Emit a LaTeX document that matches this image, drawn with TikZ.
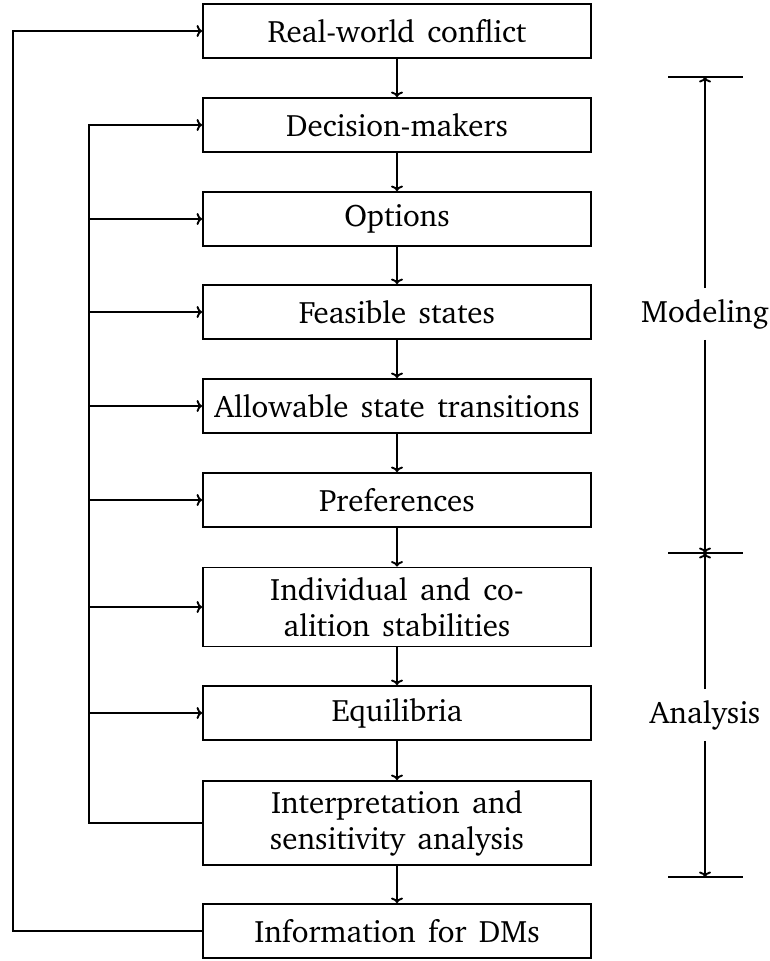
\documentclass[tikz,border=0pt]{standalone}
\usepackage[T1]{fontenc}
\usepackage{charter}
\usetikzlibrary{arrows.meta}
\newcommand\boxfont{\fontsize{31}{36}\selectfont\spaceskip=0.4em plus 0.1em minus 0.05em\relax}
\begin{document}
\begin{tikzpicture}[x=1pt,y=-1pt,line width=1.9pt,
  txt/.style={font=\boxfont},
  box/.style={draw, txt, minimum width=388pt, minimum height=54pt, align=center, inner sep=0pt},
  tallbox/.style={box, minimum height=#1},
  arr/.style={-{To[length=5.5pt,width=12pt]}},
  lbl/.style={txt, inner sep=0pt, minimum height=50pt}]
\useasboundingbox (0,0) rectangle (770,961);
% boxes
\node[box] (b1) at (397,31) {Real-world conflict};
\node[box] (b2) at (397,125) {Decision-makers};
\node[box] (b3) at (397,219) {Options};
\node[box] (b4) at (397,312) {Feasible states};
\node[box] (b5) at (397,406) {Allowable state transitions};
\node[box] (b6) at (397,500) {Preferences};
\node[tallbox=79pt] (b7) at (397,607) {Individual and co-\\alition stabilities};
\node[box] (b8) at (397,713) {Equilibria};
\node[tallbox=84pt] (b9) at (397,823) {Interpretation and\\sensitivity analysis};
\node[box] (b10) at (397,931) {Information for DMs};
% vertical chain
\foreach \a/\b in {b1/b2,b2/b3,b3/b4,b4/b5,b5/b6,b6/b7,b7/b8,b8/b9,b9/b10}
  \draw[arr] (\a.south) -- (\b.north);
% inner feedback
\coordinate (inner) at (89,500);
\draw[arr] (b9.west) -- (b9.west -| inner) -- (b2.west -| inner) -- (b2.west);
\foreach \b in {b3,b4,b5,b6,b7,b8}
  \draw[arr] (\b.west -| inner) -- (\b.west);
% outer feedback
\coordinate (outer) at (13,500);
\draw[arr] (b10.west) -- (b10.west -| outer) -- (b1.west -| outer) -- (b1.west);
% right brackets
\coordinate (t1) at (668,77);  \coordinate (t2) at (743,77);
\coordinate (m1) at (668,553); \coordinate (m2) at (743,553);
\coordinate (u1) at (668,877); \coordinate (u2) at (743,877);
\coordinate (tc) at (705,77); \coordinate (mc) at (705,553); \coordinate (uc) at (705,877);
\draw (t1) -- (t2);
\draw (m1) -- (m2);
\draw (u1) -- (u2);
\node[lbl] (mod) at (705,314) {Modeling};
\node[lbl] (ana) at (705,715) {Analysis};
\draw[arr] (mod.north) -- (tc);
\draw[arr] (mod.south) -- (mc);
\draw[arr] (ana.north) -- (mc);
\draw[arr] (ana.south) -- (uc);
\end{tikzpicture}
\end{document}
